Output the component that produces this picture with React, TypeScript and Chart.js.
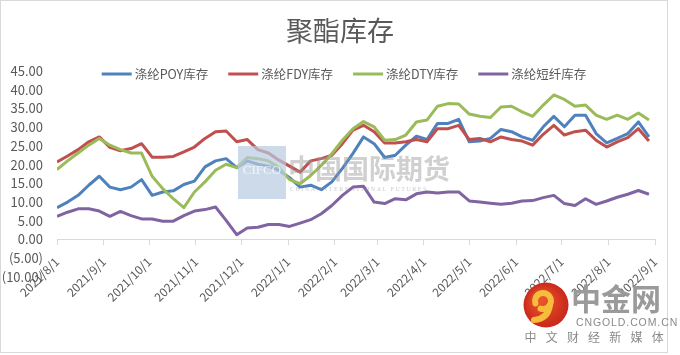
import React, { useEffect, useRef } from 'react';
import { Chart, registerables } from 'chart.js';

Chart.register(...registerables);

const FONT = '"Noto Sans CJK SC", "Noto Sans", sans-serif';
const TEXT_COLOR = '#595959';

const dates = [
  '2021/8/1', '2021/8/8', '2021/8/15', '2021/8/22', '2021/8/29',
  '2021/9/5', '2021/9/12', '2021/9/19', '2021/9/26',
  '2021/10/3', '2021/10/10', '2021/10/17', '2021/10/24', '2021/10/31',
  '2021/11/7', '2021/11/14', '2021/11/21', '2021/11/28',
  '2021/12/5', '2021/12/12', '2021/12/19', '2021/12/26',
  '2022/1/2', '2022/1/9', '2022/1/16', '2022/1/23', '2022/1/30',
  '2022/2/6', '2022/2/13', '2022/2/20', '2022/2/27',
  '2022/3/6', '2022/3/13', '2022/3/20', '2022/3/27',
  '2022/4/3', '2022/4/10', '2022/4/17', '2022/4/24',
  '2022/5/1', '2022/5/8', '2022/5/15', '2022/5/22', '2022/5/29',
  '2022/6/5', '2022/6/12', '2022/6/19', '2022/6/26',
  '2022/7/3', '2022/7/10', '2022/7/17', '2022/7/24', '2022/7/31',
  '2022/8/7', '2022/8/14', '2022/8/21', '2022/8/28',
];

const poy = [
  8.5, 10.0, 11.8, 14.5, 16.9, 14.0, 13.3, 14.0, 16.0, 11.8,
  12.7, 13.0, 14.7, 15.6, 19.4, 21.0, 21.6, 19.2, 21.0, 20.1,
  19.6, 18.5, 16.5, 14.0, 14.5, 13.3, 15.4, 19.0, 23.0, 27.4,
  25.6, 21.9, 22.5, 25.2, 27.6, 26.7, 31.0, 31.0, 32.1, 26.1,
  26.3, 27.0, 29.4, 28.8, 27.4, 26.5, 30.1, 32.9, 30.1, 33.2,
  33.2, 28.3, 25.8, 27.0, 28.3, 31.4, 27.4,
];

const fdy = [
  20.7, 22.3, 24.0, 26.1, 27.4, 24.6, 23.7, 24.3, 25.6, 22.0,
  22.0, 22.2, 23.4, 24.7, 27.0, 28.8, 29.0, 26.1, 26.7, 24.0,
  23.1, 21.2, 19.6, 18.0, 21.0, 21.6, 22.5, 25.6, 29.2, 30.5,
  28.8, 25.8, 25.8, 26.1, 26.7, 26.1, 29.6, 29.6, 30.5, 26.7,
  27.0, 26.1, 27.4, 26.7, 26.3, 25.2, 28.1, 30.5, 27.9, 28.8,
  29.2, 26.5, 24.7, 26.1, 27.2, 29.6, 26.3,
];

const dty = [
  18.7, 21.0, 23.1, 25.2, 27.0, 25.2, 24.0, 23.1, 23.1, 16.9,
  13.6, 10.9, 8.5, 12.7, 15.4, 18.5, 20.1, 19.2, 21.9, 21.6,
  21.0, 19.2, 16.0, 14.9, 17.1, 19.8, 22.9, 26.5, 29.6, 31.5,
  30.1, 26.5, 26.7, 27.9, 31.4, 31.9, 35.6, 36.3, 36.2, 33.5,
  32.9, 32.6, 35.4, 35.6, 34.1, 32.9, 35.9, 38.6, 37.4, 35.6,
  35.9, 33.2, 32.1, 33.2, 32.1, 33.8, 31.9,
];

const psf = [
  6.2, 7.3, 8.2, 8.2, 7.6, 6.2, 7.5, 6.4, 5.5, 5.5,
  4.9, 4.9, 6.4, 7.6, 8.0, 8.7, 5.1, 1.3, 3.1, 3.3,
  4.0, 4.0, 3.5, 4.4, 5.3, 6.9, 9.1, 11.8, 14.0, 14.2,
  10.0, 9.6, 10.9, 10.6, 12.2, 12.7, 12.4, 12.7, 12.7, 10.3,
  10.0, 9.7, 9.4, 9.7, 10.3, 10.4, 11.2, 11.8, 9.6, 9.1,
  10.9, 9.4, 10.3, 11.3, 12.1, 13.1, 12.1,
];

const seriesNames = ['涤纶POY库存', '涤纶FDY库存', '涤纶DTY库存', '涤纶短纤库存'];
const seriesColors = ['#4F81BD', '#C0504D', '#9BBB59', '#8064A2'];

const monthTicks = [
  '2021/8/1', '2021/9/1', '2021/10/1', '2021/11/1', '2021/12/1',
  '2022/1/1', '2022/2/1', '2022/3/1', '2022/4/1', '2022/5/1',
  '2022/6/1', '2022/7/1', '2022/8/1', '2022/9/1',
];

const yMin = -10;
const yMax = 45;
const yStep = 5;

const dayOf = (s: string) => {
  const [y, m, d] = s.split('/').map(Number);
  return Date.UTC(y, m - 1, d) / 86400000;
};
const originDay = dayOf(monthTicks[0]);
const toX = (s: string) => dayOf(s) - originDay;

const fmtY = (v: number) =>
  v < 0 ? '(' + Math.abs(v).toFixed(2) + ')' : Number(v).toFixed(2);

// Legend drawn on the chart (it sits over the top of the plot area, as in the source)
const legendPlugin = {
  id: 'overlayLegend',
  afterDraw(chart: any) {
    const ctx = chart.ctx as CanvasRenderingContext2D;
    const lineLen = 30;
    const textGap = 3;
    const itemGap = 20;
    const centerX = 344;
    const y = 74;
    ctx.save();
    ctx.font = '12.5px ' + FONT;
    ctx.textBaseline = 'middle';
    ctx.textAlign = 'left';
    const items = chart.data.datasets.map((ds: any) => ({
      text: ds.label as string,
      color: ds.borderColor as string,
      w: ctx.measureText(ds.label).width,
    }));
    const total =
      items.reduce((a: number, it: any) => a + lineLen + textGap + it.w, 0) +
      itemGap * (items.length - 1);
    let x = centerX - total / 2;
    items.forEach((it: any) => {
      ctx.strokeStyle = it.color;
      ctx.lineWidth = 3;
      ctx.lineCap = 'butt';
      ctx.beginPath();
      ctx.moveTo(x, y);
      ctx.lineTo(x + lineLen, y);
      ctx.stroke();
      ctx.fillStyle = TEXT_COLOR;
      ctx.fillText(it.text, x + lineLen + textGap, y);
      x += lineLen + textGap + it.w + itemGap;
    });
    ctx.restore();
  },
};

const watermarkPlugin = {
  id: 'watermarks',
  afterDraw(chart: any) {
    const ctx = chart.ctx as CanvasRenderingContext2D;
    ctx.save();
    // frame
    ctx.strokeStyle = '#d9d9d9';
    ctx.lineWidth = 1;
    ctx.strokeRect(0.5, 0.5, 667, 352);

    // CIFCO watermark
    ctx.fillStyle = 'rgba(184, 202, 224, 0.7)';
    ctx.fillRect(238, 146, 48, 53);
    ctx.fillStyle = 'rgba(255,255,255,0.75)';
    ctx.font = '13px "Liberation Serif", serif';
    ctx.textAlign = 'center';
    ctx.textBaseline = 'middle';
    ctx.fillText('CIFCO', 262, 171);
    ctx.fillStyle = 'rgba(150,150,150,0.45)';
    ctx.font = 'bold 27px ' + FONT;
    ctx.textAlign = 'left';
    ctx.fillText('中国国际期货', 288, 169);
    ctx.font = '6px "Liberation Serif", serif';
    ctx.fillStyle = 'rgba(150,150,150,0.5)';
    ctx.fillText('C H I N A   I N T E R N A T I O N A L   F U T U R E S', 290, 189);

    // CNGOLD logo
    const cx = 546;
    const cy = 305;
    const g = ctx.createRadialGradient(cx - 6, cy - 6, 4, cx, cy, 23);
    g.addColorStop(0, '#e8532a');
    g.addColorStop(1, '#c8261a');
    ctx.fillStyle = g;
    ctx.beginPath();
    ctx.arc(cx, cy, 22.5, 0, Math.PI * 2);
    ctx.fill();
    ctx.strokeStyle = '#f6bd3c';
    ctx.lineWidth = 6;
    ctx.lineCap = 'round';
    ctx.beginPath();
    ctx.arc(cx - 3, cy - 4, 8, Math.PI * 0.9, Math.PI * 2.6);
    ctx.stroke();
    ctx.beginPath();
    ctx.moveTo(cx + 4, cy);
    ctx.quadraticCurveTo(cx + 2, cy + 14, cx - 12, cy + 15);
    ctx.stroke();

    ctx.fillStyle = '#9a9a9a';
    ctx.font = 'bold 30px ' + FONT;
    ctx.textAlign = 'left';
    ctx.textBaseline = 'middle';
    ctx.fillText('中金网', 571, 299);
    ctx.font = '10.5px "Liberation Sans", sans-serif';
    ctx.fillStyle = '#8a8a8a';
    const cn = 'CNGOLD.COM.CN';
    let x = 576;
    for (const ch of cn) {
      ctx.fillText(ch, x, 323);
      x += ctx.measureText(ch).width + 0.9;
    }
    ctx.font = '12px ' + FONT;
    ctx.textAlign = 'center';
    const sub = '中文财经新媒体';
    Array.from(sub).forEach((ch, i) => {
      ctx.fillText(ch, 530.5 + i * 21.2, 337);
    });
    ctx.restore();
  },
};

export default function App() {
  const ref = useRef<HTMLCanvasElement | null>(null);

  useEffect(() => {
    document.body.style.margin = '0';
    const canvas = ref.current;
    if (!canvas) return;
    const seriesValues = [poy, fdy, dty, psf];
    const chart = new Chart(canvas, {
      type: 'line',
      data: {
        datasets: seriesValues.map((vals, si) => ({
          label: seriesNames[si],
          data: dates.map((d, i) => ({ x: toX(d), y: vals[i] })),
          borderColor: seriesColors[si],
          backgroundColor: seriesColors[si],
          borderWidth: 3,
          pointRadius: 0,
          pointHoverRadius: 0,
          tension: 0,
          fill: false,
          borderJoinStyle: 'round',
          order: 4 - si,
          yAxisID: 'y',
        })),
      },
      options: {
        responsive: false,
        animation: false,
        devicePixelRatio: 1,
        layout: { padding: { left: 0, right: 0, top: 0, bottom: 78 } },
        plugins: {
          title: {
            display: true,
            text: '聚酯库存',
            color: TEXT_COLOR,
            font: { family: FONT, size: 27, weight: 'normal', lineHeight: 1.2 },
            padding: { top: 14.8, bottom: 23.8 },
          },
          legend: { display: false },
          tooltip: { enabled: false },
        },
        scales: {
          x: {
            type: 'linear',
            position: { y: 0 },
            min: 0,
            max: toX(monthTicks[monthTicks.length - 1]),
            afterBuildTicks: (s: any) => {
              s.ticks = monthTicks.map((t) => ({ value: toX(t) }));
            },
            afterFit: (s: any) => {
              s.height = 0;
            },
            ticks: {
              autoSkip: false,
              minRotation: 45,
              maxRotation: 45,
              color: TEXT_COLOR,
              font: { family: FONT, size: 12 },
              padding: 10,
              callback: (v: any) => monthTicks.find((t) => toX(t) === v) ?? '',
            },
            grid: {
              display: true,
              drawOnChartArea: false,
              drawTicks: true,
              tickLength: 5,
              color: '#d9d9d9',
            },
            border: { display: true, color: '#d9d9d9', width: 1 },
          },
          y: {
            type: 'linear',
            position: 'left',
            min: yMin,
            max: yMax,
            afterFit: (s: any) => {
              s.width = 57;
            },
            ticks: {
              stepSize: yStep,
              color: TEXT_COLOR,
              font: { family: FONT, size: 13 },
              padding: 14,
              callback: (v: any) => fmtY(Number(v)),
            },
            grid: { display: false, drawTicks: false },
            border: { display: false },
          },
          yRight: {
            type: 'linear',
            position: 'right',
            display: true,
            afterFit: (s: any) => {
              s.width = 25;
            },
            ticks: { display: false },
            grid: { display: false, drawTicks: false },
            border: { display: false },
          },
        },
      },
      plugins: [legendPlugin, watermarkPlugin],
    } as any);
    return () => chart.destroy();
  }, []);

  return (
    <div style={{ width: 680, height: 355, position: 'relative', background: '#fff' }}>
      <canvas ref={ref} width={680} height={355} style={{ display: 'block', width: 680, height: 355 }} />
    </div>
  );
}
